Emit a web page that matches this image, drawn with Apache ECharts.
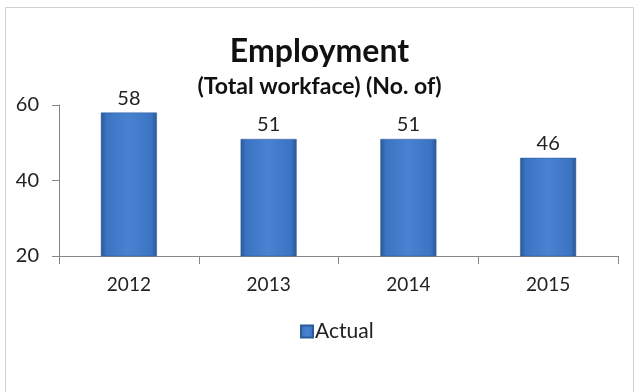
<!DOCTYPE html>
<html>
<head>
<meta charset="utf-8">
<script src="https://cdn.jsdelivr.net/npm/echarts@6/dist/echarts.min.js"></script>
<style>
  html, body { margin: 0; padding: 0; background: #fff; }
  #chart { width: 639px; height: 392px; }
</style>
</head>
<body>
<div id="chart"></div>
<script>
const years = ['2012', '2013', '2014', '2015'];
const actual = [58, 51, 51, 46];
const yTicks = { min: 20, max: 60, step: 20 };

const FONT = 'Lato';

// excel-ish bevelled blue bar
const barFill = new echarts.graphic.LinearGradient(0, 0, 1, 0, [
  { offset: 0, color: '#2a5898' },
  { offset: 0.1, color: '#3b74c2' },
  { offset: 0.5, color: '#4882d0' },
  { offset: 0.9, color: '#3b74c2' },
  { offset: 1, color: '#2a5898' }
]);

const chart = echarts.init(document.getElementById('chart'));

chart.setOption({
  backgroundColor: '#fff',
  animation: false,
  textStyle: { fontFamily: FONT },
  graphic: [{
    type: 'rect',
    shape: { x: 5.5, y: 7.5, width: 628, height: 400 },
    style: { fill: 'none', stroke: '#d0d0d0', lineWidth: 1 },
    silent: true
  }],
  title: [
    {
      text: 'Employment',
      left: 'center',
      top: 31,
      textStyle: { fontFamily: FONT, fontSize: 32, fontWeight: 'bold', color: '#111' }
    },
    {
      text: '(Total workface) (No. of)',
      left: 'center',
      top: 70,
      textStyle: { fontFamily: FONT, fontSize: 23, fontWeight: 'bold', color: '#111' }
    }
  ],
  legend: {
    data: ['Actual'],
    left: 300,
    top: 321,
    icon: 'rect',
    itemWidth: 12,
    itemHeight: 12,
    itemGap: 10,
    padding: 0,
    textStyle: { fontFamily: FONT, fontSize: 21, color: '#222', padding: [0, 0, 0, -3] }
  },
  grid: { left: 59, right: 21, top: 105, bottom: 136 },
  xAxis: {
    type: 'category',
    data: years,
    axisLine: { lineStyle: { color: '#868686' } },
    axisTick: { show: true, length: 8, lineStyle: { color: '#868686' } },
    axisLabel: { margin: 19, fontFamily: FONT, fontSize: 19, color: '#222' }
  },
  yAxis: {
    type: 'value',
    min: yTicks.min,
    max: yTicks.max,
    interval: yTicks.step,
    axisLine: { show: true, lineStyle: { color: '#868686' } },
    axisTick: { show: true, length: 7, lineStyle: { color: '#868686' } },
    splitLine: { show: false },
    axisLabel: { margin: 20, fontFamily: FONT, fontSize: 20, color: '#222' }
  },
  series: [{
    name: 'Actual',
    type: 'bar',
    data: actual,
    barWidth: 56,
    itemStyle: { color: barFill, borderColor: '#2d5b9a', borderWidth: 0.5 },
    label: {
      show: true,
      position: 'top',
      distance: 4,
      fontFamily: FONT,
      fontSize: 20,
      color: '#222'
    }
  }]
});
</script>
</body>
</html>
